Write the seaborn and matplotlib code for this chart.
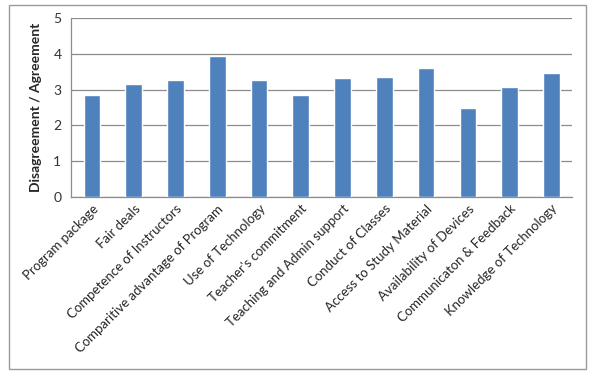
import matplotlib
matplotlib.use("Agg")
import matplotlib.pyplot as plt
import seaborn as sns
import pandas as pd
import numpy as np
from matplotlib.patches import Rectangle

categories = ["Program package", "Fair deals", "Competence of Instructors",
              "Comparitive advantage of Program", "Use of Technology",
              "Teacher's commitment", "Teaching and Admin support",
              "Conduct of Classes", "Access to Study Material",
              "Availability of Devices", "Communicaton & Feedback",
              "Knowledge of Technology"]
scores = [2.84, 3.17, 3.26, 3.93, 3.28, 2.86, 3.32, 3.34, 3.61, 2.48, 3.06, 3.46]
y_ticks = [0, 1, 2, 3, 4, 5]

df = pd.DataFrame({"item": categories, "score": scores})

sns.set_style("white")
plt.rcParams['font.family'] = ['Lato', 'DejaVu Sans']

fig = plt.figure(figsize=(5.93, 3.76), dpi=100)
ax = fig.add_axes([0.120, 0.476, 0.845, 0.476])

sns.barplot(data=df, x="item", y="score", color="#4F81BD", width=0.4,
            saturation=1, ax=ax, zorder=3)

ax.set_ylim(0, 5)
ax.set_xlim(-0.5, len(categories) - 0.5)
ax.set_yticks(y_ticks)
ax.set_yticklabels([str(t) for t in y_ticks], fontsize=10, color="#333333")
ax.yaxis.grid(True, color="#8c8c8c", linewidth=0.9, zorder=0)
ax.set_axisbelow(True)

# category labels rotated like Excel
ax.set_xticks(range(len(categories)))
ax.set_xticklabels(categories, rotation=45, ha="right", rotation_mode="anchor",
                   fontsize=9.5)
ax.tick_params(axis="x", length=0, pad=4)
# tick marks between categories
ax.set_xticks(np.arange(-0.5, len(categories), 1), minor=True)
ax.tick_params(axis="x", which="minor", length=4, color="#8c8c8c", direction="out")
ax.tick_params(axis="y", length=4, color="#8c8c8c", direction="out", pad=3)

ax.set_xlabel("")
ax.set_ylabel("Disagreement / Agreement", fontsize=10, fontweight="bold", labelpad=8)

for side in ["top", "right"]:
    ax.spines[side].set_visible(False)
for side in ["left", "bottom"]:
    ax.spines[side].set_color("#8c8c8c")
    ax.spines[side].set_linewidth(0.9)

# chart border
fig.patches.append(Rectangle((9 / 593, 1 - 369 / 376), 577 / 593, 364 / 376,
                             transform=fig.transFigure, fill=False,
                             edgecolor="#9a9a9a", linewidth=1.0))

fig.savefig("out.png", dpi=100)
